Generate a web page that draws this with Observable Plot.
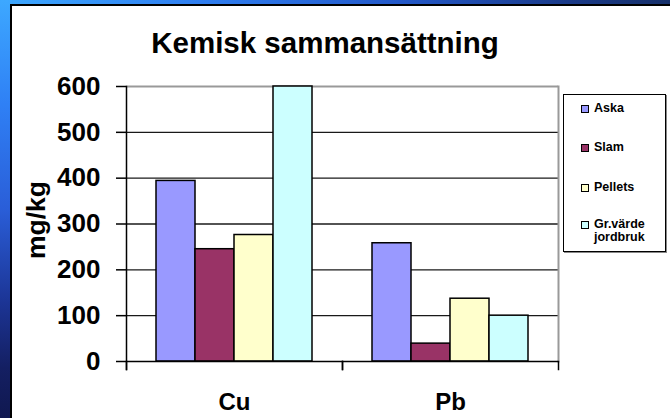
<!DOCTYPE html>
<html>
<head>
<meta charset="utf-8">
<script src="https://cdn.jsdelivr.net/npm/d3@7"></script>
<script src="https://cdn.jsdelivr.net/npm/@observablehq/plot@0.6"></script>
<style>
  html, body { margin: 0; padding: 0; }
  body {
    width: 670px; height: 418px; overflow: hidden; position: relative;
    background: #1a3a9a;
    font-family: "Liberation Sans", Arial, sans-serif;
  }
  #stripTop {
    position: absolute; left: 0; top: 0; width: 670px; height: 8px;
    background: linear-gradient(to right, #3da8ff 0%, #2f7ef0 30%, #2358c8 60%, #1a3a88 85%, #16306a 100%);
  }
  #stripLeft {
    position: absolute; left: 0; top: 0; width: 12px; height: 418px;
    background: linear-gradient(to bottom, #3da8ff 0%, #2f80f5 25%, #2a5ed8 50%, #1c3596 72%, #141f62 88%, #101850 100%);
  }
  #panel {
    position: absolute; left: 10px; top: 4px; right: 0; bottom: 0;
    background: #fff; border-left: 2px solid #000; border-top: 2px solid #000;
  }
  #chart { position: absolute; left: 0; top: 0; }
  #title {
    position: absolute; left: 0; width: 650px; top: 28px; text-align: center;
    font-weight: bold; font-size: 29.5px; line-height: 1; color: #000; white-space: nowrap;
  }
  #ylabel {
    position: absolute; left: 36px; top: 220px; transform: translate(-50%, -50%) rotate(-90deg) scaleX(1.06);
    font-weight: bold; font-size: 25px; line-height: 1; white-space: nowrap; color: #000;
  }
  #legend {
    position: absolute; left: 563px; top: 94px; width: 101px; height: 156px;
    border: 1.5px solid #000; background: #fff; box-shadow: 1px 1px 0 #888;
  }
  .item { position: absolute; left: 17px; font-weight: bold; font-size: 12.5px; line-height: 13px; color: #000; }
  .sw { position: absolute; left: 0; top: 3px; width: 6px; height: 6px; border: 1px solid #000; }
  .lbl { position: absolute; left: 13px; top: 0; white-space: nowrap; }
</style>
</head>
<body>
<div id="stripTop"></div>
<div id="stripLeft"></div>
<div id="panel"></div>
<div id="chart"></div>
<div id="title">Kemisk sammansättning</div>
<div id="ylabel">mg/kg</div>
<div id="legend"></div>
<script>
// ---- data ----
const categories = ["Cu", "Pb"];
const series = ["Aska", "Slam", "Pellets", "Gr.värde jordbruk"];
const legendLabels = ["Aska", "Slam", "Pellets", "Gr.värde\njordbruk"];
const aska = [394, 258];
const slam = [245, 39];
const pellets = [276, 137];
const grVarde = [600, 100];
const yTicks = [0, 100, 200, 300, 400, 500, 600];
const colors = ["#9999ff", "#993366", "#ffffcc", "#ccffff"];

const valuesBySeries = [aska, slam, pellets, grVarde];
const data = categories.flatMap((c, i) =>
  series.map((s, j) => ({ element: c, serie: s, value: valuesBySeries[j][i] }))
);

const chart = Plot.plot({
  width: 670,
  height: 418,
  marginLeft: 126,
  marginRight: 112,
  marginTop: 86,
  marginBottom: 57,
  style: { background: "transparent", fontFamily: "'Liberation Sans', Arial, sans-serif", color: "#000" },
  fx: { domain: categories, padding: 0, label: null },
  x: { domain: series, paddingInner: 0, paddingOuter: 0.73, axis: null },
  y: { domain: [0, 600], label: null },
  color: { domain: series, range: colors },
  marks: [
    Plot.gridY(yTicks.filter(d => d > 0 && d < 600), { stroke: "#000", strokeOpacity: 0.9, strokeWidth: 1.3 }),
    Plot.ruleY([600], { stroke: "#999", strokeWidth: 2 }),
    Plot.frame({ anchor: "right", facet: "super", stroke: "#999", strokeWidth: 2 }),
    Plot.barY(data, { fx: "element", x: "serie", y: "value", fill: "serie", stroke: "#000", strokeWidth: 1.5 }),
    Plot.ruleY([0], { stroke: "#000", strokeWidth: 1.5 }),
    Plot.frame({ anchor: "left", facet: "super", stroke: "#000", strokeWidth: 1.5, insetBottom: -8 }),
    Plot.frame({ anchor: "left", stroke: "#000", strokeWidth: 1.5, insetTop: 275, insetBottom: -8 }),
    Plot.frame({ anchor: "right", stroke: "#000", strokeWidth: 1.5, insetTop: 275, insetBottom: -8 }),
    Plot.axisY({ ticks: yTicks, tickSize: 10, tickPadding: 16, fontSize: 26, fontWeight: "bold", label: null, strokeWidth: 1.5 }),
    Plot.axisFx({ anchor: "bottom", tickSize: 0, tickPadding: 31, fontSize: 24, fontWeight: "bold", label: null })
  ]
});
document.getElementById("chart").appendChild(chart);

// legend
const legendTops = [7, 46, 86, 123];
const legend = document.getElementById("legend");
series.forEach((s, i) => {
  const item = document.createElement("div");
  item.className = "item";
  item.style.top = legendTops[i] + "px";
  const sw = document.createElement("div");
  sw.className = "sw";
  sw.style.background = colors[i];
  const lbl = document.createElement("div");
  lbl.className = "lbl";
  lbl.innerHTML = legendLabels[i].split("\n").join("<br>");
  item.appendChild(sw);
  item.appendChild(lbl);
  legend.appendChild(item);
});
</script>
</body>
</html>
